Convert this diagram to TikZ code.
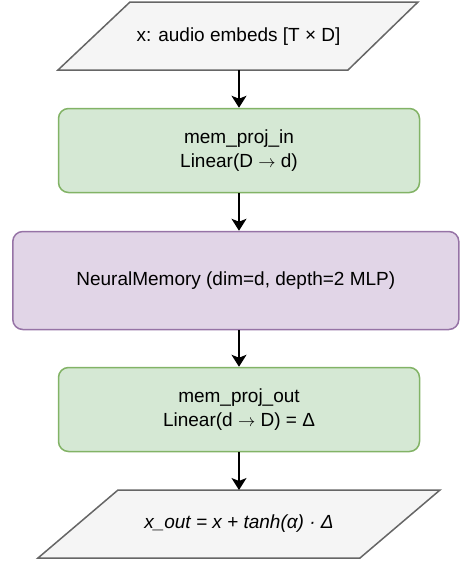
\documentclass[tikz,border=0pt]{standalone}
\usepackage{fontspec}
\setmainfont{Liberation Sans}
\usetikzlibrary{arrows.meta}
\DeclareMathSizes{19}{17.28}{12}{10}
\definecolor{gfill}{HTML}{D5E8D4}
\definecolor{gline}{HTML}{82B366}
\definecolor{pfill}{HTML}{E1D5E7}
\definecolor{pline}{HTML}{9673A6}
\definecolor{iofill}{HTML}{F5F5F5}
\definecolor{ioline}{HTML}{666666}
\newcommand{\rarr}{ $\rightarrow$ }
\tikzset{
  txt/.style={font=\fontsize{19}{23.5}\selectfont, align=center, text=black},
  greenbox/.style={txt, draw=gline, fill=gfill, line width=1.5pt, rounded corners=10pt,
    minimum width=361pt, minimum height=84pt, inner sep=0pt},
  purplebox/.style={txt, draw=pline, fill=pfill, line width=1.5pt, rounded corners=10pt,
    minimum width=446pt, minimum height=98pt, inner sep=0pt},
  iobox/.style={draw=ioline, fill=iofill, line width=1.5pt, line join=miter},
  flow/.style={draw=black, line width=1.6pt, -{Stealth[length=12pt,width=15pt,inset=3pt]}}
}
\begin{document}
\begin{tikzpicture}[x=1pt,y=-1pt]
\useasboundingbox (0,0) rectangle (460,563);
% top input parallelogram
\path[iobox] (130,2) -- (418,2) -- (348,70) -- (58,70) -- cycle;
\node[txt] (in) at (238.5,37) {x: audio embeds [T × D]};
\coordinate (inb) at (239,70);
% boxes
\node[greenbox] (pin) at (239,150.5) {mem\_proj\_in\\Linear(D\rarr d)};
\node[purplebox] (mem) at (235.8,280.5) {NeuralMemory (dim=d, depth=2 MLP)};
\node[greenbox] (pout) at (239,409.5) {mem\_proj\_out\\Linear(d\rarr D) = Δ};
% bottom output parallelogram
\path[iobox] (118,490) -- (440,490) -- (360,558) -- (38,558) -- cycle;
\node[txt, font=\fontsize{19}{23.5}\selectfont\itshape] (out) at (239,524) {x\_out = x + tanh(α) · Δ};
\coordinate (outt) at (239,490);
% connectors
\draw[flow] (inb) -- (pin.north);
\draw[flow] (pin.south) -- (mem.north -| pin.south);
\draw[flow] (mem.south -| pin.south) -- (pout.north);
\draw[flow] (pout.south) -- (outt);
\end{tikzpicture}
\end{document}
